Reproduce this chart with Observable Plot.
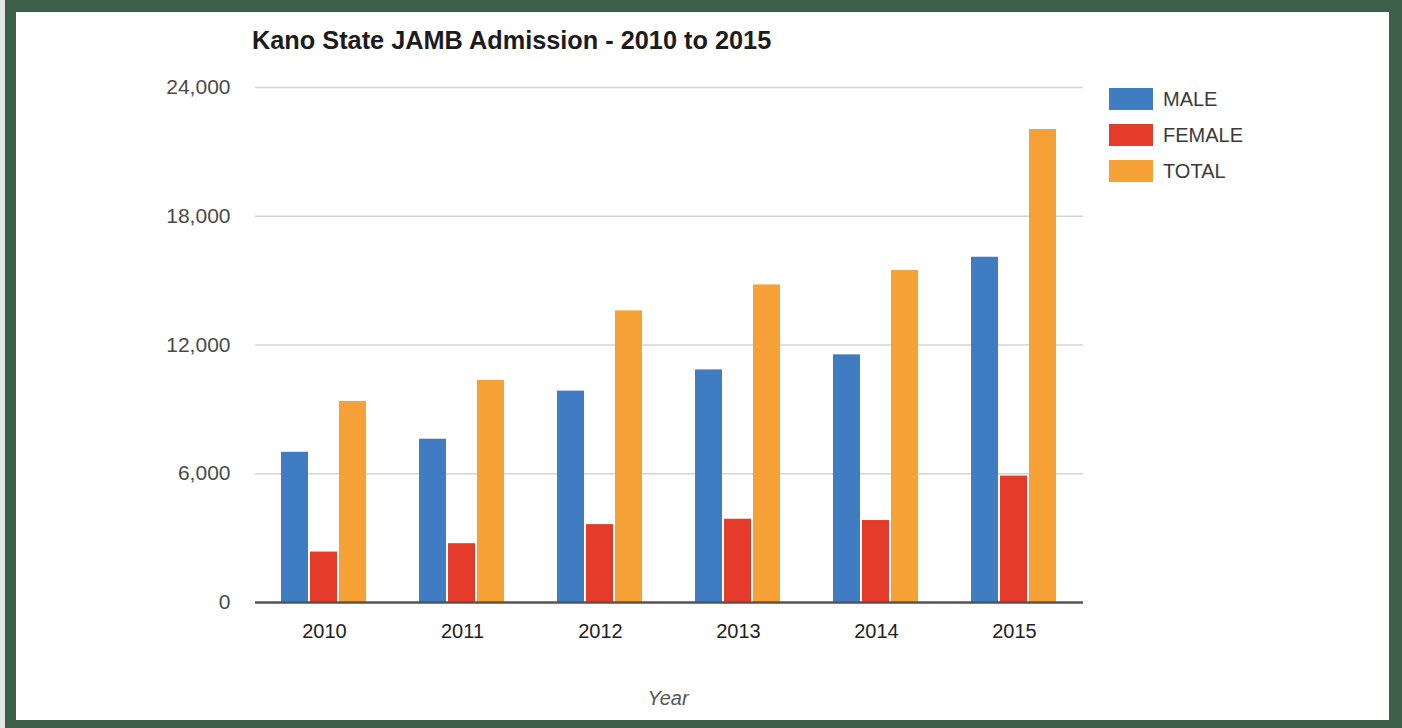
<!DOCTYPE html>
<html>
<head>
<meta charset="utf-8">
<script src="https://cdn.jsdelivr.net/npm/d3@7"></script>
<script src="https://cdn.jsdelivr.net/npm/@observablehq/plot@0.6"></script>
<style>
  html, body { margin: 0; padding: 0; background: #3d5e48; }
  #frame { position: relative; width: 1402px; height: 728px; background: #3d5e48; overflow: hidden; font-family: "Liberation Sans", Arial, sans-serif; }
  #strip { position: absolute; left: 0; top: 0; width: 5px; height: 728px; background: #e3e5e7; }
  #panel { position: absolute; left: 16px; top: 12px; width: 1373px; height: 708px; background: #fff; }
  #title { position: absolute; left: 252px; top: 26px; font-weight: bold; font-size: 25.3px; color: #1c1c1c; white-space: nowrap; }
  #chart { position: absolute; left: 16px; top: 60px; }
  #legend { position: absolute; left: 1109px; top: 88px; }
  .row { display: flex; align-items: center; height: 22px; margin-bottom: 14px; }
  .sw { width: 44px; height: 22px; margin-right: 10px; }
  .lab { font-size: 20px; color: #3a3a3a; }
  #xlabel { position: absolute; left: 568px; width: 200px; text-align: center; top: 687px; font-size: 20px; font-style: italic; color: #555; }
</style>
</head>
<body>
<div id="frame">
  <div id="strip"></div>
  <div id="panel"></div>
  <div id="title">Kano State JAMB Admission - 2010 to 2015</div>
  <div id="chart"></div>
  <div id="legend"></div>
  <div id="xlabel">Year</div>
</div>
<script>
const years = ["2010", "2011", "2012", "2013", "2014", "2015"];
const series = ["MALE", "FEMALE", "TOTAL"];
const male = [7000, 7610, 9850, 10840, 11540, 16090];
const female = [2350, 2740, 3630, 3880, 3820, 5890];
const total = [9370, 10350, 13590, 14800, 15470, 22040];
const colors = ["#3f7cc2", "#e53b2a", "#f6a136"];
const yTicks = [0, 6000, 12000, 18000, 24000];

const valuesBySeries = [male, female, total];
const rows = [];
years.forEach((yr, i) => {
  series.forEach((s, j) => rows.push({year: yr, series: s, value: valuesBySeries[j][i]}));
});

const chart = Plot.plot({
  width: 1373,
  height: 660,
  marginLeft: 236,
  marginRight: 304,
  marginTop: 27,
  marginBottom: 118,
  style: {background: "transparent", fontFamily: "Liberation Sans, Arial, sans-serif"},
  fx: {domain: years, padding: 0, label: null},
  x: {domain: series, paddingInner: 0.06, paddingOuter: 0.87, axis: null},
  y: {domain: [0, 24000], label: null},
  color: {domain: series, range: colors},
  marks: [
    Plot.gridY(yTicks, {stroke: "#d4d4d4", strokeOpacity: 1, strokeWidth: 1.5}),
    Plot.barY(rows, {fx: "year", x: "series", y: "value", fill: "series"}),
    Plot.ruleY([0], {stroke: "#555", strokeWidth: 2.5}),
    Plot.axisY(yTicks, {tickSize: 0, tickPadding: 25, tickFormat: d3.format(","), fontSize: 21, color: "#4a4a4a", label: null}),
    Plot.axisFx({anchor: "bottom", tickSize: 0, tickPadding: 21, fontSize: 20, color: "#222", label: null})
  ]
});
document.getElementById("chart").appendChild(chart);

const legend = document.getElementById("legend");
series.forEach((s, j) => {
  const row = document.createElement("div");
  row.className = "row";
  const sw = document.createElement("div");
  sw.className = "sw";
  sw.style.background = colors[j];
  const lab = document.createElement("div");
  lab.className = "lab";
  lab.textContent = s;
  row.appendChild(sw);
  row.appendChild(lab);
  legend.appendChild(row);
});
</script>
</body>
</html>
